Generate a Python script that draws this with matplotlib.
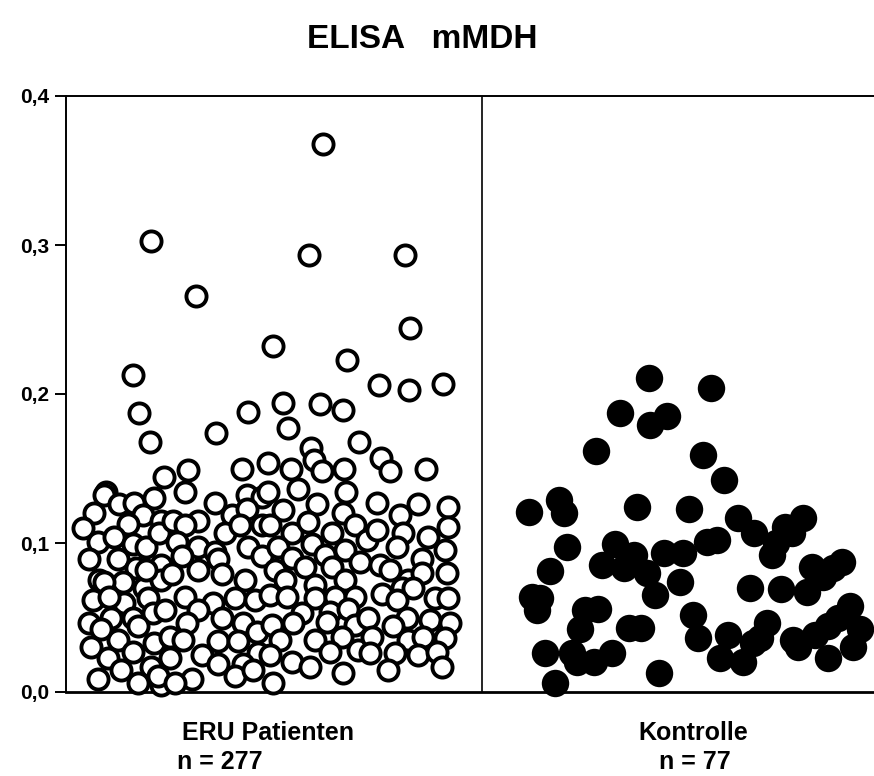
import numpy as np
import matplotlib
matplotlib.use('Agg')
from matplotlib import pyplot as plt

plt.rcParams['font.family'] = ['Liberation Sans', 'DejaVu Sans']
plt.rcParams['font.weight'] = 'bold'

title = 'ELISA   mMDH'
groups = ['ERU Patienten', 'Kontrolle']
group_n = ['n = 277', 'n = 77']
yticks = [0.0, 0.1, 0.2, 0.3, 0.4]
ytick_labels = ['0,0', '0,1', '0,2', '0,3', '0,4']

# ERU patients: jitter position inside the group (0..1) and measured value
eru_x = [0.618, 0.204, 0.584, 0.815, 0.313, 0.827, 0.498, 0.675, 0.161, 0.752,
         0.825, 0.906, 0.175, 0.438, 0.522, 0.611, 0.666, 0.202, 0.361, 0.534,
         0.704, 0.589, 0.596, 0.757, 0.779, 0.293, 0.236, 0.423, 0.486, 0.541,
         0.615, 0.668, 0.865, 0.558, 0.096, 0.286, 0.673,
         0.091, 0.127, 0.163, 0.212, 0.067, 0.185, 0.228, 0.041, 0.149, 0.077,
         0.115, 0.161, 0.192, 0.224, 0.055, 0.125, 0.168, 0.228, 0.079, 0.137,
         0.188, 0.228, 0.065, 0.139, 0.197, 0.055, 0.108, 0.161, 0.209, 0.125,
         0.173, 0.212, 0.060, 0.101, 0.161, 0.132, 0.204, 0.077, 0.173, 0.228,
         0.091, 0.103, 0.084, 0.192, 0.221,
         0.435, 0.358, 0.471, 0.257, 0.317, 0.399, 0.435, 0.286, 0.382, 0.418,
         0.471, 0.267, 0.317, 0.358, 0.438, 0.279, 0.365, 0.471, 0.317, 0.375,
         0.430, 0.255, 0.286, 0.353, 0.406, 0.454, 0.238, 0.317, 0.375, 0.291,
         0.425, 0.459, 0.250, 0.365, 0.281, 0.327, 0.413, 0.462, 0.250, 0.365,
         0.425, 0.303, 0.406, 0.450, 0.262,
         0.486, 0.522, 0.603, 0.666, 0.490, 0.543, 0.582, 0.639, 0.695, 0.724,
         0.510, 0.591, 0.623, 0.671, 0.543, 0.575, 0.707, 0.502, 0.639, 0.671,
         0.526, 0.599, 0.490, 0.531, 0.599, 0.647, 0.695, 0.567, 0.635, 0.678,
         0.495, 0.546, 0.627, 0.695, 0.514, 0.599, 0.663, 0.702, 0.490, 0.543,
         0.635, 0.587, 0.666, 0.498,
         0.748, 0.803, 0.846, 0.918, 0.748, 0.810, 0.870, 0.918, 0.796, 0.911,
         0.755, 0.779, 0.856, 0.916, 0.822, 0.856, 0.808, 0.834, 0.760, 0.796,
         0.887, 0.918, 0.726, 0.820, 0.875, 0.923, 0.786, 0.736, 0.822, 0.858,
         0.911, 0.731, 0.791, 0.846, 0.892, 0.904, 0.774]
eru_y = [0.368, 0.303, 0.293, 0.293, 0.266, 0.244, 0.232, 0.223, 0.213, 0.206,
         0.203, 0.207, 0.187, 0.188, 0.194, 0.193, 0.189, 0.168, 0.174, 0.177,
         0.168, 0.164, 0.156, 0.157, 0.148, 0.149, 0.144, 0.150, 0.154, 0.150,
         0.148, 0.150, 0.150, 0.136, 0.134, 0.134, 0.134,
         0.132, 0.126, 0.127, 0.130, 0.120, 0.119, 0.115, 0.110, 0.113, 0.101,
         0.104, 0.099, 0.097, 0.107, 0.089, 0.089, 0.083, 0.085, 0.075, 0.074,
         0.070, 0.075, 0.062, 0.060, 0.063, 0.046, 0.050, 0.050, 0.053, 0.035,
         0.044, 0.033, 0.030, 0.023, 0.027, 0.015, 0.017, 0.009, 0.006, 0.005,
         0.074, 0.064, 0.042, 0.082, 0.011,
         0.132, 0.127, 0.131, 0.115, 0.115, 0.119, 0.123, 0.112, 0.107, 0.112,
         0.112, 0.101, 0.097, 0.094, 0.097, 0.091, 0.089, 0.091, 0.082, 0.079,
         0.075, 0.079, 0.064, 0.060, 0.063, 0.062, 0.055, 0.055, 0.050, 0.046,
         0.046, 0.040, 0.037, 0.034, 0.035, 0.025, 0.034, 0.026, 0.023, 0.019,
         0.019, 0.009, 0.011, 0.015, 0.006,
         0.134, 0.122, 0.126, 0.120, 0.112, 0.107, 0.114, 0.107, 0.112, 0.102,
         0.097, 0.099, 0.092, 0.095, 0.090, 0.084, 0.087, 0.082, 0.084, 0.075,
         0.075, 0.072, 0.065, 0.064, 0.063, 0.064, 0.064, 0.053, 0.054, 0.056,
         0.045, 0.046, 0.047, 0.045, 0.035, 0.035, 0.037, 0.028, 0.025, 0.020,
         0.027, 0.017, 0.013, 0.006,
         0.127, 0.119, 0.126, 0.124, 0.109, 0.107, 0.104, 0.111, 0.097, 0.095,
         0.085, 0.082, 0.089, 0.080, 0.075, 0.080, 0.070, 0.070, 0.066, 0.062,
         0.063, 0.063, 0.050, 0.050, 0.048, 0.046, 0.044, 0.037, 0.035, 0.037,
         0.036, 0.026, 0.026, 0.025, 0.027, 0.017, 0.015]

# Control group
ctrl_x = [0.401, 0.550, 0.332, 0.445, 0.404, 0.274, 0.531, 0.582, 0.113, 0.185,
          0.197, 0.373, 0.498, 0.615, 0.654, 0.728, 0.772, 0.745, 0.697, 0.707,
          0.565, 0.541, 0.483, 0.204, 0.163, 0.320, 0.288, 0.341, 0.365, 0.397,
          0.416, 0.438, 0.476, 0.644, 0.719, 0.781, 0.793, 0.820, 0.865, 0.844,
          0.120, 0.139, 0.132, 0.248, 0.279, 0.236, 0.353, 0.382, 0.507, 0.519,
          0.591, 0.572, 0.627, 0.685, 0.668, 0.651, 0.748, 0.760, 0.800, 0.832,
          0.885, 0.856, 0.909, 0.892, 0.832, 0.151, 0.216, 0.228, 0.269, 0.313,
          0.425, 0.175]
ctrl_y = [0.211, 0.204, 0.187, 0.185, 0.179, 0.162, 0.159, 0.142, 0.121, 0.129,
          0.120, 0.124, 0.123, 0.117, 0.107, 0.111, 0.117, 0.107, 0.092, 0.100,
          0.102, 0.101, 0.093, 0.097, 0.081, 0.099, 0.085, 0.083, 0.092, 0.080,
          0.065, 0.093, 0.074, 0.070, 0.069, 0.067, 0.084, 0.077, 0.087, 0.083,
          0.064, 0.063, 0.055, 0.055, 0.056, 0.042, 0.043, 0.043, 0.052, 0.036,
          0.038, 0.023, 0.020, 0.046, 0.036, 0.033, 0.035, 0.030, 0.038, 0.044,
          0.058, 0.050, 0.042, 0.030, 0.023, 0.026, 0.026, 0.020, 0.020, 0.026,
          0.013, 0.006]

fig = plt.figure(figsize=(8.74, 7.76), dpi=100)
ax = fig.add_axes([66 / 874, 84 / 776, 808 / 874, 596 / 776])

# open circles for the patients, filled ones for the controls
ax.scatter(eru_x, eru_y, s=210, marker='o', facecolor='white',
           edgecolor='black', linewidths=2.8, zorder=3, clip_on=False)
ax.scatter(1 + np.array(ctrl_x), ctrl_y, s=390, marker='o', facecolor='black',
           edgecolor='black', linewidths=0, zorder=3, clip_on=False)

ax.axvline(1, color='black', lw=1.2, zorder=2)
ax.set_xlim(0, 808 / 416)
ax.set_ylim(0, 0.4)
ax.set_xticks([])
ax.set_yticks(yticks)
ax.set_yticklabels(ytick_labels, fontsize=15, fontweight='bold')
ax.tick_params(axis='y', direction='out', length=8, width=1.4, pad=4)
ax.spines['right'].set_visible(False)
for s in ['left', 'top']:
    ax.spines[s].set_linewidth(1.4)
ax.spines['bottom'].set_linewidth(2)

fig.text(422 / 874, 1 - 40 / 776, title, ha='center', va='center',
         fontsize=24, fontweight='bold')
fig.text(268 / 874, 1 - 733 / 776, groups[0], ha='center', va='center',
         fontsize=18, fontweight='bold')
fig.text(220 / 874, 1 - 762 / 776, group_n[0], ha='center', va='center',
         fontsize=18, fontweight='bold')
fig.text(693 / 874, 1 - 733 / 776, groups[1], ha='center', va='center',
         fontsize=18, fontweight='bold')
fig.text(695 / 874, 1 - 762 / 776, group_n[1], ha='center', va='center',
         fontsize=18, fontweight='bold')

plt.savefig('out.png', dpi=100)
